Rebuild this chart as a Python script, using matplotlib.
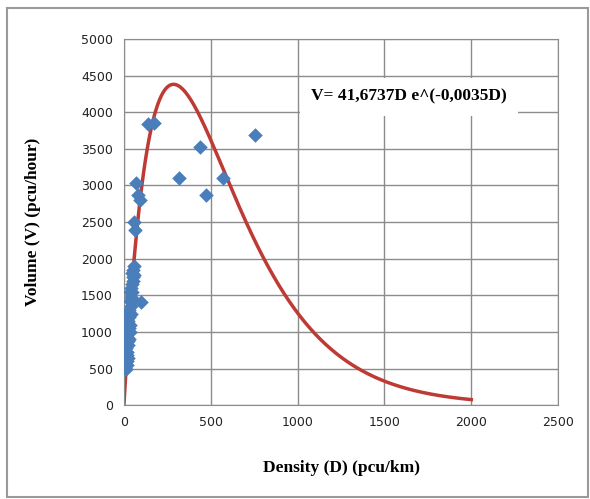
import numpy as np
import matplotlib.pyplot as plt
from matplotlib.patches import Rectangle

# observed points (density pcu/km, volume pcu/hour)
density = [10, 15, 12, 18, 20, 14, 22, 25, 16, 28, 30, 35, 26, 32, 38, 30, 40, 36,
           42, 45, 38, 48, 50, 55, 44, 52, 58, 20, 24, 27, 33, 29, 47, 60, 35,
           70, 81, 93, 58, 64, 98, 140, 175, 320, 436, 470, 570, 755]
volume = [500, 550, 620, 680, 720, 780, 820, 870, 930, 1000, 1050, 1100, 1150, 1200,
          1250, 1300, 1350, 1420, 1480, 1550, 1600, 1650, 1700, 1750, 1800, 1850, 1900,
          600, 650, 900, 1000, 1250, 1450, 1780, 1550,
          3030, 2870, 2800, 2500, 2390, 1410, 3840, 3850, 3100, 3525, 2870, 3100, 3690]

# fitted model V = a D exp(-b D)
a = 41.6737
b = 0.0035
d_fit = np.linspace(0, 2000, 400)
v_fit = a * d_fit * np.exp(-b * d_fit)

fig = plt.figure(figsize=(5.9, 4.99), dpi=100)
ax = fig.add_axes([0.210, 0.188, 0.736, 0.734])

ax.plot(d_fit, v_fit, color="#be3a34", lw=2.5, zorder=2)
ax.scatter(density, volume, marker="D", s=55, color="#4a7ebb", zorder=3, linewidths=0)

ax.set_xlim(0, 2500)
ax.set_ylim(0, 5000)
ax.set_xticks(range(0, 2501, 500))
ax.set_yticks(range(0, 5001, 500))
ax.grid(True, color="#8c8c8c", lw=1)
ax.set_axisbelow(True)
for s in ax.spines.values():
    s.set_color("#8c8c8c")
ax.tick_params(length=0, labelsize=9, colors="#222222", pad=8)

ax.set_xlabel("Density (D) (pcu/km)", family="Liberation Serif", fontweight="bold",
              fontsize=12.5, labelpad=22)
ax.set_ylabel("Volume (V) (pcu/hour)", family="Liberation Serif", fontweight="bold",
              fontsize=12.5, labelpad=29)

ax.text(1640, 4210, "V= 41,6737D e^(-0,0035D)", family="Liberation Serif",
        fontweight="bold", fontsize=12.5, ha="center", va="center", zorder=4,
        bbox=dict(facecolor="white", edgecolor="none", pad=8))

fig.patches.append(Rectangle((0.012, 0.004), 0.984, 0.98, transform=fig.transFigure,
                             fill=False, edgecolor="#9a9a9a", lw=1.5))

fig.savefig("out.png", dpi=100)
